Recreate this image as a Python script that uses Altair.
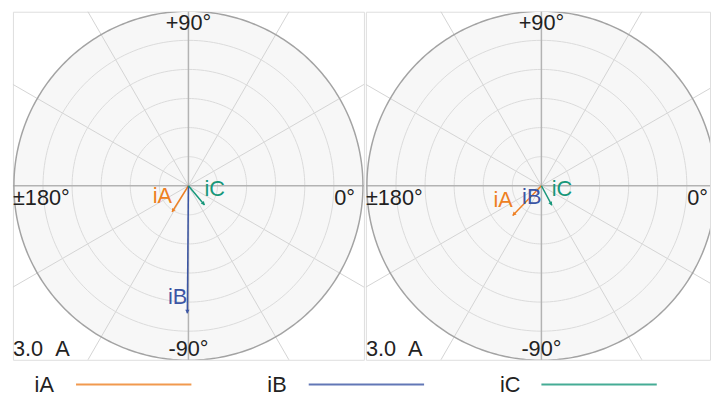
import math
import numpy as np
import pandas as pd
import altair as alt

# ---------------- data ----------------
PHASES = ["iA", "iB", "iC"]
COLORS = ["#ee7f22", "#3b55a4", "#17977a"]
LEFT_MAG = [0.53, 2.19, 0.43]          # A
LEFT_ANG = [-122.0, -90.5, -50.0]      # degrees
RIGHT_MAG = [0.71, 0.0, 0.38]          # A
RIGHT_ANG = [-134.0, -90.0, -62.0]     # degrees

SCALE_MAX = 3.0      # amps at the outer circle
RING_STEP = 0.5
SPOKE_STEP = 30
UNIT = "A"
ANGLE_LABELS = {"top": "+90°", "bottom": "-90°", "left": "±180°", "right": "0°"}

# ---------------- layout / style ----------------
FONT = "Liberation Sans"
PX_R = 177.0
PX_PER_A = PX_R / SCALE_MAX
PANEL_H = 353
LEFT_W = 356
RIGHT_W = 349
CX_PX = 178
LEG_H = 32
SLOT = 236


def xdom(w):
    return [-CX_PX / PX_PER_A, (w - CX_PX) / PX_PER_A]


YDOM = [-PANEL_H / 2 / PX_PER_A, PANEL_H / 2 / PX_PER_A]

# ---------------- geometry derived from the scale ----------------
def circle_df(radii, step=2):
    rows = []
    for r in radii:
        for t in range(0, 361, step):
            a = math.radians(t)
            rows.append({"ring": r, "t": t, "x": r * math.cos(a), "y": r * math.sin(a)})
    return pd.DataFrame(rows)


n_rings = int(round(SCALE_MAX / RING_STEP))
inner_rings = circle_df([RING_STEP * k for k in range(1, n_rings)])
outer_ring = circle_df([SCALE_MAX], step=1)

disk = pd.DataFrame({"t": np.arange(0, 181, 1)})
disk["x"] = SCALE_MAX * np.cos(np.radians(disk["t"]))
disk["y"] = SCALE_MAX * np.sin(np.radians(disk["t"]))
disk["y2"] = -disk["y"]

L = 3 * SCALE_MAX
spk = pd.DataFrame({"a": list(range(0, 360, SPOKE_STEP))})
spk["x0"] = 0.0
spk["y0"] = 0.0
spk["x2"] = L * np.cos(np.radians(spk["a"]))
spk["y2"] = L * np.sin(np.radians(spk["a"]))
minor_spokes = spk[spk["a"] % 90 != 0]
major_spokes = spk[spk["a"] % 90 == 0]


def panel(mags, angs, width):
    xs = alt.Scale(domain=xdom(width), nice=False, zero=False)
    ys = alt.Scale(domain=YDOM, nice=False, zero=False)

    def X(f):
        return alt.X(f, type="quantitative", scale=xs, axis=None)

    def Y(f):
        return alt.Y(f, type="quantitative", scale=ys, axis=None)

    col = alt.Color("phase:N", scale=alt.Scale(domain=PHASES, range=COLORS), legend=None)

    layers = []
    layers.append(alt.Chart(disk).mark_area(color="#f7f7f7", clip=True).encode(
        x=X("x"), y=Y("y"), y2="y2"))
    layers.append(alt.Chart(minor_spokes).mark_rule(color="#d3d3d3", strokeWidth=1, clip=True).encode(
        x=X("x0"), y=Y("y0"), x2="x2", y2="y2"))
    layers.append(alt.Chart(inner_rings).mark_line(color="#dadada", strokeWidth=1).encode(
        x=X("x"), y=Y("y"), detail="ring:N", order="t:Q"))
    layers.append(alt.Chart(major_spokes).mark_rule(color="#b3b3b3", strokeWidth=1.5, clip=True).encode(
        x=X("x0"), y=Y("y0"), x2="x2", y2="y2"))
    layers.append(alt.Chart(outer_ring).mark_line(color="#a3a3a3", strokeWidth=1.5, clip=True).encode(
        x=X("x"), y=Y("y"), order="t:Q"))

    # angle labels
    lab = pd.DataFrame([
        {"k": "top", "x": 0.0, "y": SCALE_MAX, "text": ANGLE_LABELS["top"]},
        {"k": "bottom", "x": 0.0, "y": -SCALE_MAX, "text": ANGLE_LABELS["bottom"]},
        {"k": "left", "x": -SCALE_MAX, "y": 0.0, "text": ANGLE_LABELS["left"]},
        {"k": "right", "x": SCALE_MAX, "y": 0.0, "text": ANGLE_LABELS["right"]},
        {"k": "scale", "x": -SCALE_MAX, "y": -SCALE_MAX,
         "text": f"{SCALE_MAX:.1f}\u00a0\u00a0{UNIT}"},
    ])
    styles = {
        "top": dict(align="center", dy=19),
        "bottom": dict(align="center", dy=-4),
        "left": dict(align="left", dx=-1, dy=20),
        "right": dict(align="right", dx=-8, dy=20),
        "scale": dict(align="left", dx=-1, dy=-4),
    }
    for k, st in styles.items():
        layers.append(alt.Chart(lab[lab["k"] == k]).mark_text(
            font=FONT, fontSize=22, color="#222222", baseline="alphabetic", **st
        ).encode(x=X("x"), y=Y("y"), text="text:N"))

    # phasors
    vec = pd.DataFrame({"phase": PHASES, "mag": mags, "ang": angs})
    rad = np.radians(vec["ang"])
    vec["x0"] = 0.0
    vec["y0"] = 0.0
    vec["x"] = vec["mag"] * np.cos(rad)
    vec["y"] = vec["mag"] * np.sin(rad)
    back = 2.2 / PX_PER_A
    vec["ax"] = (vec["mag"] - back) * np.cos(rad)
    vec["ay"] = (vec["mag"] - back) * np.sin(rad)
    vec["rot"] = (90 - vec["ang"]) % 360
    live = vec[vec["mag"] > 0]

    layers.append(alt.Chart(live).mark_rule(strokeWidth=1.5).encode(
        x=X("x0"), y=Y("y0"), x2="x", y2="y", color=col))
    layers.append(alt.Chart(live).mark_point(shape="triangle", filled=True, size=18, opacity=1).encode(
        x=X("ax"), y=Y("ay"), color=col, angle=alt.Angle("rot:Q", scale=None)))

    lab_r = vec[(vec["mag"] > 0) & (vec["x"] <= 0)]
    lab_l = vec[(vec["mag"] > 0) & (vec["x"] > 0)]
    lab_z = vec[vec["mag"] == 0]
    for d, al, dy in ((lab_r, "right", -9), (lab_l, "left", -9), (lab_z, "right", 18)):
        if len(d):
            layers.append(alt.Chart(d).mark_text(
                font=FONT, fontSize=22, align=al, baseline="alphabetic", dy=dy
            ).encode(x=X("x"), y=Y("y"), text="phase:N", color=col))

    return alt.layer(*layers).properties(width=width, height=PANEL_H)


left = panel(LEFT_MAG, LEFT_ANG, LEFT_W)
right = panel(RIGHT_MAG, RIGHT_ANG, RIGHT_W)

# legend
LEG_W = LEFT_W + RIGHT_W
leg = pd.DataFrame({"phase": PHASES, "idx": list(range(len(PHASES)))})
leg["tx"] = leg["idx"] + 22 / SLOT
leg["lx1"] = leg["idx"] + 64 / SLOT
leg["lx2"] = leg["idx"] + 181 / SLOT
lxs = alt.Scale(domain=[0, LEG_W / SLOT], nice=False, zero=False)
lcol = alt.Color("phase:N", scale=alt.Scale(domain=PHASES, range=COLORS), legend=None)
leg_text = alt.Chart(leg).mark_text(
    font=FONT, fontSize=22, color="#222222", align="left", baseline="middle"
).encode(x=alt.X("tx:Q", scale=lxs, axis=None), y=alt.value(24), text="phase:N")
leg_line = alt.Chart(leg).mark_rule(strokeWidth=2, opacity=0.8).encode(
    x=alt.X("lx1:Q", scale=lxs, axis=None), x2="lx2", y=alt.value(23), color=lcol)
legend = alt.layer(leg_line, leg_text).properties(
    width=LEG_W, height=LEG_H, view=alt.ViewBackground(stroke="transparent"))

chart = alt.vconcat(
    alt.hconcat(left, right, spacing=0),
    legend,
    spacing=0,
).properties(
    padding={"left": 4, "top": 0, "right": 0, "bottom": 0}
).configure_view(stroke="#dddddd").resolve_scale(color="shared")

chart.save("out.html", embed_options={"renderer": "svg", "actions": False})
